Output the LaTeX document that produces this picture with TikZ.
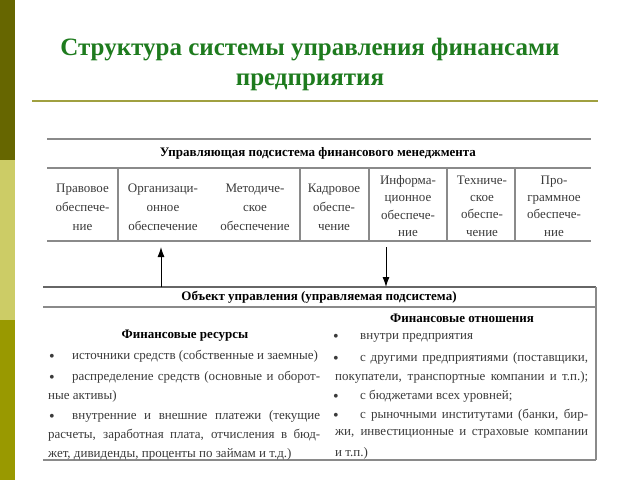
\documentclass[tikz,border=0pt]{standalone}
\usepackage{fontspec}
\setmainfont{Liberation Serif}
\usetikzlibrary{arrows.meta}
\definecolor{barA}{HTML}{666600}
\definecolor{barB}{HTML}{CCCC66}
\definecolor{barC}{HTML}{999900}
\definecolor{titlegreen}{HTML}{1E7B1E}
\definecolor{rulecol}{HTML}{A0A040}
\definecolor{tlinecol}{HTML}{8A8A8A}
\definecolor{txtcol}{HTML}{3A3A3A}
\newcommand{\bul}{{\fontsize{16}{15}\selectfont\raisebox{-2pt}{•}}}
\begin{document}
\begin{tikzpicture}[x=1pt,y=-1pt,
  tline/.style={draw=tlinecol,line width=1.1pt},
  cell/.style={inner sep=0pt,align=center,text=txtcol,font=\fontsize{13}{19}\selectfont},
  cellq/.style={inner sep=0pt,align=center,text=txtcol,font=\fontsize{13}{17.3}\selectfont},
  head/.style={inner sep=0pt,text=black,font=\fontsize{13}{15}\selectfont\bfseries},
  body/.style={inner sep=0pt,anchor=west,text=txtcol,font=\fontsize{13}{15}\selectfont},
  link/.style={draw=black,line width=1pt,-{Latex[length=10pt,width=7pt]}}]
\useasboundingbox (0,0) rectangle (640,480);
% left colour bar
\fill[barA] (0,0) rectangle (15,160);
\fill[barB] (0,160) rectangle (15,320);
\fill[barC] (0,320) rectangle (15,480);
% title
\node[inner sep=0pt,align=center,text=titlegreen,font=\fontsize{25}{30}\selectfont\bfseries] (title) at (310,64)
  {Структура системы управления финансами\\предприятия};
\draw[rulecol,line width=1.3pt] (32,101) -- (598,101);
% upper table
\draw[tline] (47,139) -- (591,139);
\draw[tline] (47,168) -- (591,168);
\draw[tline] (47,241) -- (591,241);
\foreach \xx in {118,300,369,447,515} \draw[tline] (\xx,168) -- (\xx,241);
\node[head] (uhead) at (318,153) {Управляющая подсистема финансового менеджмента};
\node[cell] (c1) at (82.5,207) {Правовое\\обеспече-\\ние};
\node[cell] (c2) at (163,207) {Организаци-\\онное\\обеспечение};
\node[cell] (c3) at (255,207) {Методиче-\\ское\\обеспечение};
\node[cell] (c4) at (334,207) {Кадровое\\обеспе-\\чение};
\node[cellq] (c5) at (408,206) {Информа-\\ционное\\обеспече-\\ние};
\node[cellq] (c6) at (482,206) {Техниче-\\ское\\обеспе-\\чение};
\node[cellq] (c7) at (554,206) {Про-\\граммное\\обеспече-\\ние};
% lower frame
\draw[draw=black!60,line width=1.1pt] (43,287) -- (596,287);
\draw[tline] (43,307) -- (596,307);
\draw[tline] (43,460) -- (596,460);
\draw[tline] (596,287) -- (596,460);
\node[head] (lhead) at (319,297) {Объект управления (управляемая подсистема)};
% arrows
\coordinate (upS) at (161,287);
\coordinate (upE) at (161,247);
\coordinate (dnS) at (386,247);
\coordinate (dnE) at (386,287);
\draw[link] (upS) -- (upE);
\draw[link] (dnS) -- (dnE);
% left column
\node[head] (resh) at (185,336) {Финансовые ресурсы};
\node[body] (l1) at (49,356) {\makebox[23pt][l]{\bul}источники средств (собственные и заемные)};
\node[body] (l2) at (49,377) {\makebox[23pt][l]{\bul}\makebox[248pt][s]{распределение средств (основные и оборот-}};
\node[body] (l3) at (48,396) {ные активы)};
\node[body] (l4) at (49,416) {\makebox[23pt][l]{\bul}\makebox[248pt][s]{внутренние и внешние платежи (текущие}};
\node[body] (l5) at (48,435) {\makebox[272pt][s]{расчеты, заработная плата, отчисления в бюд-}};
\node[body] (l6) at (48,454) {жет, дивиденды, проценты по займам и т.д.)};
% right column
\node[head] (relh) at (462,318) {Финансовые отношения};
\node[body] (r1) at (333,338) {\makebox[27pt][l]{\bul}внутри предприятия};
\node[body] (r2) at (333,358) {\makebox[27pt][l]{\bul}\makebox[228pt][s]{с другими предприятиями (поставщики,}};
\node[body] (r3) at (335,377) {\makebox[253pt][s]{покупатели, транспортные компании и т.п.);}};
\node[body] (r4) at (333,396) {\makebox[27pt][l]{\bul}с бюджетами всех уровней;};
\node[body] (r5) at (333,415) {\makebox[27pt][l]{\bul}\makebox[228pt][s]{с рыночными институтами (банки, бир-}};
\node[body] (r6) at (335,434) {\makebox[253pt][s]{жи, инвестиционные и страховые компании}};
\node[body] (r7) at (335,453) {и т.п.)};
\end{tikzpicture}
\end{document}
